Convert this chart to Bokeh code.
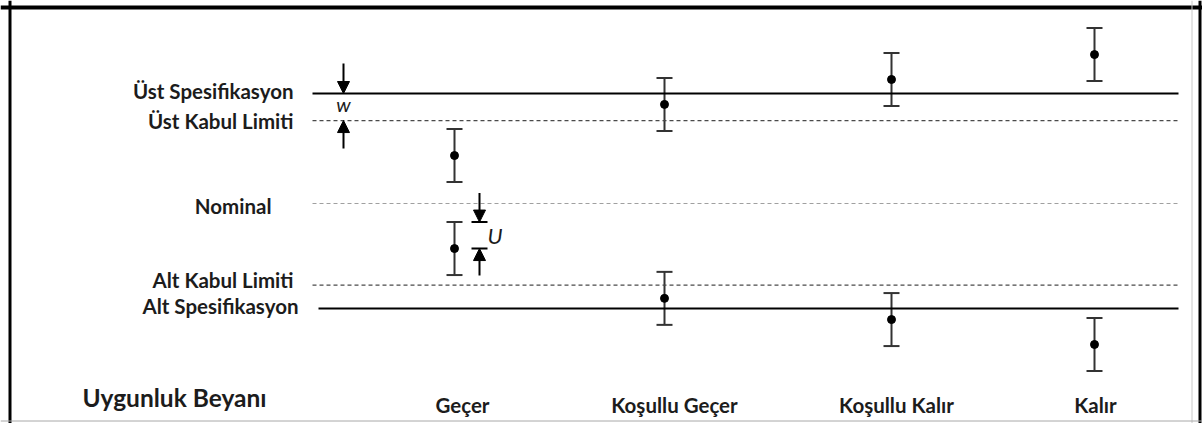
from bokeh.plotting import figure
from bokeh.models import Range1d, Arrow, NormalHead, Whisker, TeeHead, ColumnDataSource, Span
from bokeh.core.properties import value
from bokeh.embed import file_html
from bokeh.resources import INLINE

# ---------------- data ----------------
categories = ["Geçer", "Koşullu Geçer", "Koşullu Kalır", "Kalır"]
cat_x = [454, 664, 891, 1094]
upper_results = [11.81, 13.74, 14.68, 15.62]
lower_results = [8.30, 6.42, 5.62, 4.68]
U = 1.0

limit_names = ["Üst Spesifikasyon", "Üst Kabul Limiti", "Nominal", "Alt Kabul Limiti", "Alt Spesifikasyon"]
limit_values = [14.15, 13.13, 10.0, 6.92, 6.04]
title_text = "Uygunluk Beyanı"

# ---------------- layout helpers ----------------
W, H = 1202, 423
PX_PER_UNIT = 26.5
Y_TOP = 10.0 + 203 / PX_PER_UNIT
Y_BOT = Y_TOP - H / PX_PER_UNIT


def ypx(page_y):
    return 10.0 + (203 - page_y) / PX_PER_UNIT


FONT = value("Lato")
TXT = "#1c1c1c"
SHIFT = -7.5  # svg baseline correction

p = figure(width=W, height=H, x_range=Range1d(0, W), y_range=Range1d(Y_BOT, Y_TOP),
           output_backend="svg", toolbar_location=None, min_border=0,
           x_axis_location=None, y_axis_location=None)
p.grid.visible = False
p.outline_line_color = None
p.background_fill_color = "white"
p.border_fill_color = "white"

# frame
p.add_layout(Span(location=ypx(7), dimension="width", line_color="black", line_width=4))
p.add_layout(Span(location=9.5, dimension="height", line_color="black", line_width=3))
p.add_layout(Span(location=1199.5, dimension="height", line_color="black", line_width=3))
p.add_layout(Span(location=1191.5, dimension="height", line_color="#c8c8c8", line_width=1))
p.add_layout(Span(location=ypx(420.5), dimension="width", line_color="#a8a8a8", line_width=1))

# limit lines
line_x0 = [312, 312, 312, 312, 318]
line_x1 = [1178, 1178, 1180, 1178, 1178]
line_col = ["black", "#4a4a4a", "#a0a0a0", "#4a4a4a", "black"]
line_w = [2, 1.2, 1.2, 1.2, 2]
line_dash = ["solid", "4 3", "4 3", "4 3", "solid"]
for i, v in enumerate(limit_values):
    p.segment(x0=[line_x0[i]], x1=[line_x1[i]], y0=[v], y1=[v],
              line_color=line_col[i], line_width=line_w[i], line_dash=line_dash[i])

# limit labels (right aligned)
label_right = [293, 293, 271, 293, 298]
label_base = [97.7, 128.3, 213.3, 286.7, 313.0]
p.text(x=label_right, y=[ypx(b + SHIFT) for b in label_base], text=limit_names,
       text_align="right", text_baseline="alphabetic", text_font=FONT,
       text_font_style="bold", text_font_size="20.5px", text_color=TXT)

p.text(x=[82], y=[ypx(404 + SHIFT)], text=[title_text], text_align="left", text_baseline="alphabetic",
       text_font=FONT, text_font_style="bold", text_font_size="24.5px", text_color=TXT)

# category labels
cat_label_dx = [8, 10, 5, 1]
p.text(x=[c + d for c, d in zip(cat_x, cat_label_dx)], y=[ypx(411.5 + SHIFT)] * 4, text=categories,
       text_align="center", text_baseline="alphabetic", text_font=FONT,
       text_font_style="bold", text_font_size="20.5px", text_color=TXT)

# error bars
xs = cat_x + cat_x
ys = upper_results + lower_results
src = ColumnDataSource(dict(x=xs, y=ys, up=[y + U for y in ys], lo=[y - U for y in ys]))
EB = "#333333"
p.add_layout(Whisker(source=src, base="x", upper="up", lower="lo", dimension="height",
                     line_color=EB, line_width=2,
                     upper_head=TeeHead(size=16, line_color=EB, line_width=2),
                     lower_head=TeeHead(size=16, line_color=EB, line_width=2)))
p.scatter(x="x", y="y", source=src, size=8, color="black")

# w arrows (between upper spec and upper acceptance limit)
wx = 343
head = dict(size=12, fill_color="black", line_color="black")
p.add_layout(Arrow(end=NormalHead(**head), x_start=wx, x_end=wx,
                   y_start=limit_values[0] + 30 / PX_PER_UNIT, y_end=limit_values[0],
                   line_color="black", line_width=2))
p.add_layout(Arrow(end=NormalHead(**head), x_start=wx, x_end=wx,
                   y_start=limit_values[1] - 28 / PX_PER_UNIT, y_end=limit_values[1],
                   line_color="black", line_width=2))
p.text(x=[wx], y=[ypx(111 + SHIFT)], text=["w"], text_align="center", text_baseline="alphabetic",
       text_font=FONT, text_font_style="italic", text_font_size="20px", text_color=TXT)

# U arrows (expanded uncertainty on the first lower result)
ux = 479
ref = lower_results[0]
p.add_layout(Arrow(end=NormalHead(**head), x_start=ux, x_end=ux,
                   y_start=ref + U + 29 / PX_PER_UNIT, y_end=ref + U,
                   line_color="black", line_width=2))
p.add_layout(Arrow(end=NormalHead(**head), x_start=ux, x_end=ux,
                   y_start=ref - 27 / PX_PER_UNIT, y_end=ref,
                   line_color="black", line_width=2))
p.segment(x0=[ux - 8, ux - 8], x1=[ux + 8, ux + 8], y0=[ref + U, ref], y1=[ref + U, ref],
          line_color="black", line_width=2)
p.text(x=[487], y=[ypx(242 + SHIFT)], text=["U"], text_align="left", text_baseline="alphabetic",
       text_font=FONT, text_font_style="italic", text_font_size="22px", text_color=TXT)

open("out.html", "w").write(file_html(p, INLINE))
